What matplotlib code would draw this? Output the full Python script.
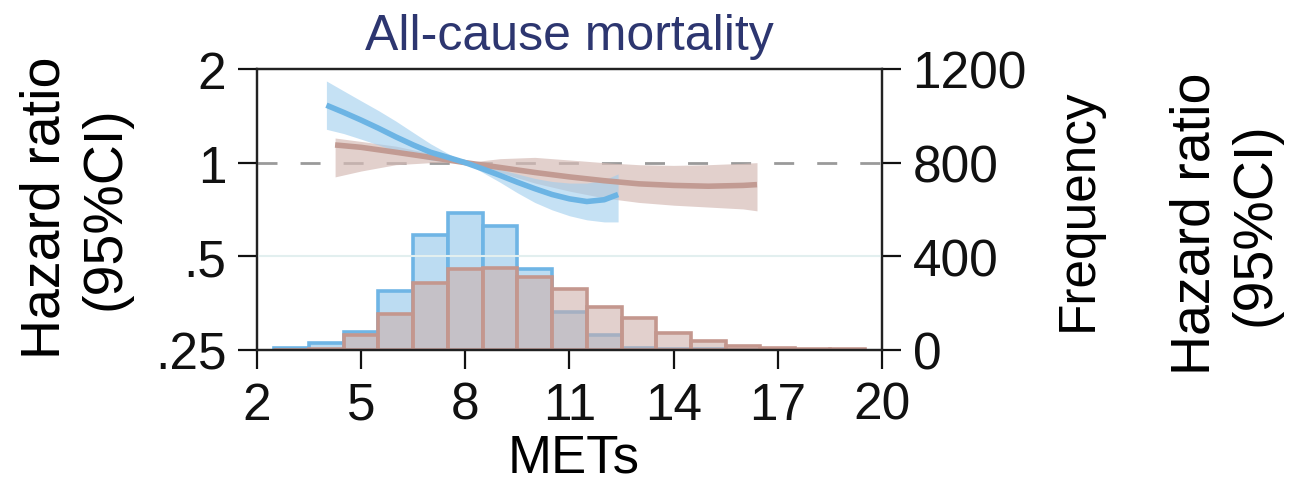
import matplotlib
matplotlib.use('Agg')
import matplotlib.pyplot as plt

plt.rcParams['font.family'] = ['Liberation Sans', 'DejaVu Sans']

# histogram of METs (bins 1 MET wide, centred on integers)
met_bins = [3, 4, 5, 6, 7, 8, 9, 10, 11, 12, 13, 14, 15, 16, 17, 18, 19]
freq_blue = [8, 28, 75, 253, 489, 585, 530, 346, 162, 66, 10, 3, 3, 1, 1, 1, 2]
freq_brown = [0, 4, 64, 154, 286, 346, 350, 311, 259, 184, 138, 73, 40, 17, 7, 5, 5]

# hazard ratio curves
blue_x = [4.0, 4.5, 5.0, 5.5, 6.0, 6.5, 7.0, 7.5, 8.0, 8.5, 9.0, 9.5, 10.0, 10.5, 11.0, 11.5, 12.0, 12.4]
blue_hr = [1.53, 1.45, 1.37, 1.29, 1.21, 1.14, 1.08, 1.04, 1.00, 0.955, 0.91, 0.865, 0.825, 0.79, 0.765, 0.75, 0.76, 0.79]
blue_lo = [1.28, 1.24, 1.19, 1.14, 1.09, 1.05, 1.02, 1.005, 1.00, 0.93, 0.865, 0.80, 0.745, 0.705, 0.675, 0.655, 0.645, 0.645]
blue_hi = [1.83, 1.70, 1.58, 1.47, 1.36, 1.25, 1.15, 1.07, 1.00, 0.975, 0.95, 0.92, 0.89, 0.87, 0.86, 0.86, 0.88, 0.92]

brown_x = [4.25, 5, 6, 7, 8, 9, 10, 11, 12, 13, 14, 15, 16, 16.4]
brown_hr = [1.14, 1.12, 1.08, 1.04, 1.00, 0.965, 0.93, 0.90, 0.875, 0.855, 0.845, 0.84, 0.845, 0.85]
brown_lo = [0.90, 0.94, 0.985, 1.00, 1.00, 0.93, 0.86, 0.81, 0.77, 0.745, 0.73, 0.72, 0.71, 0.70]
brown_hi = [1.20, 1.17, 1.13, 1.07, 1.00, 1.03, 1.04, 1.02, 1.00, 0.985, 0.98, 0.985, 0.995, 1.00]

hr_ticks = [0.25, 0.5, 1, 2]
hr_labels = ['.25', '.5', '1', '2']
met_ticks = [2, 5, 8, 11, 14, 17, 20]
freq_ticks = [0, 400, 800, 1200]

fig = plt.figure(figsize=(13.09, 4.85), dpi=100)
ax = fig.add_axes([0.1963, 0.2763, 0.4775, 0.5794])
ax2 = ax.twinx()

# histogram on the right axis
ax2.bar(met_bins, freq_blue, width=1.0, facecolor='#bcdcf2', edgecolor='#6fb5e5', linewidth=2.6, zorder=1)
ax2.bar(met_bins, freq_brown, width=1.0, facecolor=(205/255, 174/255, 169/255, 0.58),
        edgecolor='#c4978e', linewidth=2.6, zorder=2)
ax2.set_ylim(0, 1200)
ax2.set_yticks(freq_ticks)

# HR curves on the left axis, drawn above the histogram
ax.set_zorder(ax2.get_zorder() + 1)
ax.patch.set_visible(False)
ax.set_yscale('log')
ax.set_ylim(0.25, 2)
ax.set_xlim(2, 20)
ax.axhline(0.5, color='#e2efef', lw=1.5, zorder=0)
ax.axhline(1, color='#9a9a9a', lw=2, ls=(0, (7.2, 8.3)), zorder=1)
ax.fill_between(brown_x, brown_lo, brown_hi, color='#d6bcb7', alpha=0.7, lw=0, zorder=2)
ax.fill_between(blue_x, blue_lo, blue_hi, color='#9fcdee', alpha=0.6, lw=0, zorder=3)
ax.plot(brown_x, brown_hr, color='#c29b93', lw=4, solid_capstyle='butt', zorder=4)
ax.plot(blue_x, blue_hr, color='#6cb4e4', lw=4, solid_capstyle='butt', zorder=5)

ax.set_yticks(hr_ticks)
ax.set_yticklabels(hr_labels)
ax.yaxis.set_minor_locator(matplotlib.ticker.NullLocator())
ax.set_xticks(met_ticks)

for a in (ax, ax2):
    a.tick_params(direction='out', length=14, width=1.6, labelsize=37, pad=8, colors='#111111')
    for s in a.spines.values():
        s.set_linewidth(1.6)
        s.set_color('#222222')

fig.text(0.438, 0.054, 'METs', fontsize=38, ha='center', va='center')
fig.text(0.058, 0.571, 'Hazard ratio\n(95%CI)', fontsize=40, rotation=90, ha='center', va='center',
         linespacing=1.2, multialignment='center')
fig.text(0.435, 0.924, 'All-cause mortality', fontsize=36, color='#2d3670', ha='center', va='center')
fig.text(0.8235, 0.567, 'Frequency', fontsize=37, rotation=90, ha='center', va='center')
fig.text(0.936, 0.538, 'Hazard ratio\n(95%CI)', fontsize=40, rotation=90, ha='center', va='center',
         linespacing=1.2, multialignment='center')

fig.savefig('out.png', dpi=100)
